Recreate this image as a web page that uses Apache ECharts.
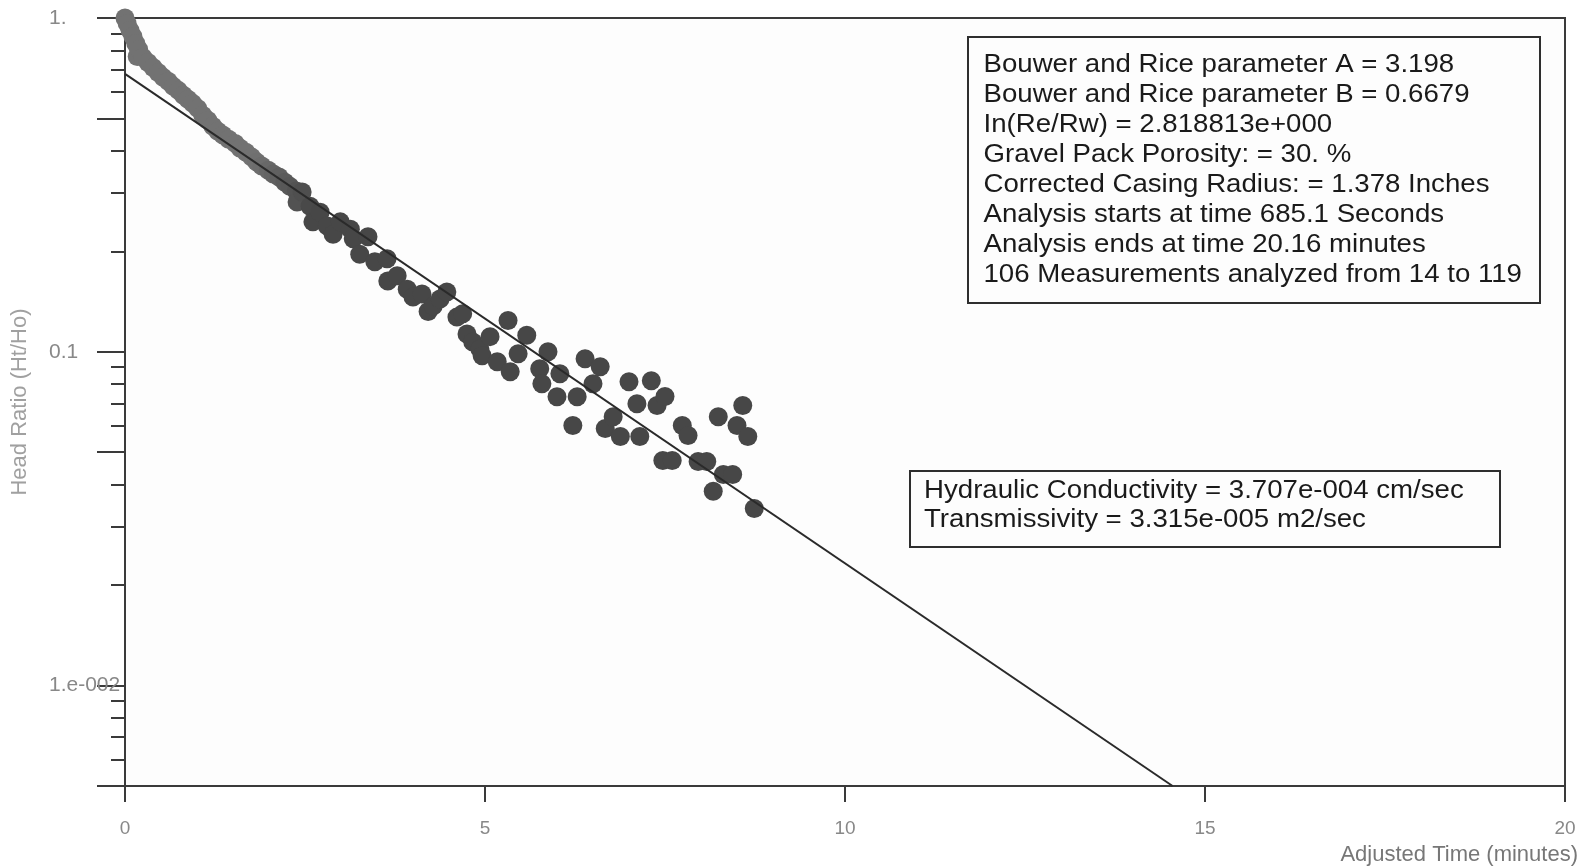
<!DOCTYPE html>
<html>
<head>
<meta charset="utf-8">
<script src="https://cdn.jsdelivr.net/npm/echarts@6/dist/echarts.min.js"></script>
<style>
html,body{margin:0;padding:0;background:#ffffff;}
#chart{width:1585px;height:866px;}
</style>
</head>
<body>
<div id="chart"></div>
<script>
// ---- data ----
const timeMin = [0.00,0.03,0.07,0.11,0.15,0.17,0.19,0.25,0.32,0.39,0.46,0.53,0.60,0.67,0.74,0.81,0.875,0.94,1.01,1.08,1.15,1.22,1.29,1.36,1.44,1.53,1.60,1.68,1.76,1.83,1.90,1.99,2.06,2.14,2.22,2.29,2.38,2.39,2.46,2.57,2.61,2.71,2.81,2.89,2.99,3.13,3.17,3.26,3.375,3.47,3.64,3.65,3.78,3.92,4.00,4.125,4.21,4.28,4.375,4.47,4.61,4.69,4.75,4.83,4.93,4.96,5.07,5.17,5.32,5.35,5.46,5.58,5.76,5.79,5.875,6.00,6.04,6.22,6.28,6.39,6.50,6.60,6.67,6.78,6.88,7.00,7.11,7.15,7.31,7.39,7.47,7.50,7.60,7.74,7.82,7.96,8.08,8.17,8.24,8.31,8.44,8.50,8.58,8.65,8.74];
const headRatio = [1.00,0.963,0.918,0.880,0.839,0.767,0.805,0.762,0.736,0.711,0.687,0.664,0.646,0.624,0.607,0.587,0.571,0.555,0.536,0.511,0.494,0.474,0.458,0.446,0.433,0.421,0.407,0.396,0.383,0.370,0.360,0.350,0.341,0.334,0.322,0.313,0.303,0.281,0.301,0.273,0.245,0.262,0.238,0.225,0.245,0.233,0.218,0.196,0.221,0.186,0.190,0.163,0.169,0.154,0.146,0.149,0.132,0.137,0.144,0.151,0.127,0.130,0.113,0.107,0.102,0.0973,0.111,0.0933,0.124,0.0871,0.0987,0.112,0.0889,0.0802,0.100,0.0733,0.0859,0.0601,0.0733,0.0953,0.0802,0.0902,0.0589,0.0639,0.0557,0.0813,0.0699,0.0557,0.0819,0.0690,0.0472,0.0734,0.0472,0.0601,0.0561,0.0469,0.0469,0.0382,0.0639,0.0429,0.0429,0.0601,0.0690,0.0557,0.0339];
const fitTime = [0, 14.55];
const fitRatio = [0.68, 0.005];

const xTickValues = [0, 5, 10, 15, 20];
const yLabelValues = [0.01, 0.1, 1];
const yLabelTexts = ['1.e-002', '0.1', '1.'];
const yMajorTicks = [0.005, 0.01, 0.05, 0.1, 0.5, 1];
const yMinorTicks = [0.006,0.007,0.008,0.009,0.02,0.03,0.04,0.06,0.07,0.08,0.09,0.2,0.3,0.4,0.6,0.7,0.8,0.9];

const xAxisTitle = 'Adjusted Time (minutes)';
const yAxisTitle = 'Head Ratio (Ht/Ho)';
const paramLines = [
  'Bouwer and Rice parameter A = 3.198',
  'Bouwer and Rice parameter B = 0.6679',
  'In(Re/Rw) = 2.818813e+000',
  'Gravel Pack Porosity: = 30. %',
  'Corrected Casing Radius: = 1.378 Inches',
  'Analysis starts at time 685.1 Seconds',
  'Analysis ends at time 20.16 minutes',
  '106 Measurements analyzed from 14 to 119'
];
const resultLines = [
  'Hydraulic Conductivity = 3.707e-004 cm/sec',
  'Transmissivity = 3.315e-005 m2/sec'
];

// ---- build ----
const points = timeMin.map((t, i) => [t, headRatio[i]]);
const fitLine = fitTime.map((t, i) => [t, fitRatio[i]]);

const FONT = '"Liberation Sans", Arial, sans-serif';
const axisDark = '#3a3a3a';
const labelGray = '#888888';

function boxGraphic(left, top, right, bottom, lines, textX, firstY, step) {
  const children = [{
    type: 'rect',
    shape: { x: left, y: top, width: right - left, height: bottom - top },
    style: { fill: 'rgba(255,255,255,0)', stroke: '#2e2e2e', lineWidth: 2 }
  }];
  lines.forEach((s, i) => {
    children.push({
      type: 'text',
      x: textX, y: firstY + i * step,
      scaleX: 1.105,
      style: { text: s, x: 0, y: 0, fill: '#1a1a1a', font: '25px ' + FONT, verticalAlign: 'middle', align: 'left' }
    });
  });
  return { type: 'group', children: children, z: 100 };
}

const chart = echarts.init(document.getElementById('chart'), null, { renderer: 'canvas' });
chart.setOption({
  animation: false,
  backgroundColor: '#ffffff',
  grid: { left: 125, right: 20, top: 18, bottom: 80, show: true, borderColor: axisDark, borderWidth: 2, backgroundColor: '#fdfdfd' },
  visualMap: {
    show: false, type: 'continuous', dimension: 0, seriesIndex: 0,
    min: 1.8, max: 2.6, inRange: { color: ['#727272', '#474747'] }
  },
  xAxis: {
    type: 'value', min: 0, max: 20, interval: 5,
    axisLine: { show: true, lineStyle: { color: axisDark, width: 2 } },
    axisTick: { show: true, length: 16, inside: false, customValues: xTickValues, lineStyle: { color: axisDark, width: 2 } },
    axisLabel: { margin: 33, color: labelGray, fontSize: 19, fontFamily: FONT, customValues: xTickValues },
    splitLine: { show: false },
    name: xAxisTitle, nameLocation: 'end', nameGap: 13,
    nameTextStyle: { color: '#777777', fontSize: 22, fontFamily: FONT, align: 'right', verticalAlign: 'top', padding: [58, 0, 0, 0] }
  },
  yAxis: [{
    type: 'log', logBase: 10, min: 0.005, max: 1,
    axisLine: { show: true, lineStyle: { color: axisDark, width: 2 } },
    axisTick: { show: true, length: 28, customValues: yMajorTicks, lineStyle: { color: axisDark, width: 2 } },
    axisLabel: {
      show: true, customValues: yLabelValues, margin: 76, align: 'left',
      color: labelGray, fontSize: 21, fontFamily: FONT,
      formatter: function (v) {
        for (let i = 0; i < yLabelValues.length; i++) {
          if (Math.abs(Math.log10(v) - Math.log10(yLabelValues[i])) < 1e-6) return yLabelTexts[i];
        }
        return '';
      }
    },
    splitLine: { show: false },
    minorTick: { show: false },
    name: yAxisTitle, nameLocation: 'middle', nameGap: 94, nameRotate: 90,
    nameTextStyle: { color: '#a0a0a0', fontSize: 22, fontFamily: FONT }
  }, {
    type: 'log', logBase: 10, min: 0.005, max: 1, position: 'left',
    axisLine: { show: false },
    axisTick: { show: true, length: 14, customValues: yMinorTicks, lineStyle: { color: axisDark, width: 2 } },
    axisLabel: { show: false },
    splitLine: { show: false }
  }],
  series: [{
    type: 'scatter', name: 'measured', data: points, yAxisIndex: 0,
    symbol: 'circle', symbolSize: 19, z: 2,
    itemStyle: { color: '#474747', opacity: 1 }
  }, {
    type: 'line', name: 'fit', data: fitLine, yAxisIndex: 0,
    symbol: 'none', z: 5, clip: true,
    lineStyle: { color: '#2a2a2a', width: 2 }
  }],
  graphic: [
    boxGraphic(968, 37, 1540, 303, paramLines, 983.5, 65.5, 30),
    boxGraphic(910, 471, 1500, 547, resultLines, 924, 491, 29.5)
  ]
});
</script>
</body>
</html>
